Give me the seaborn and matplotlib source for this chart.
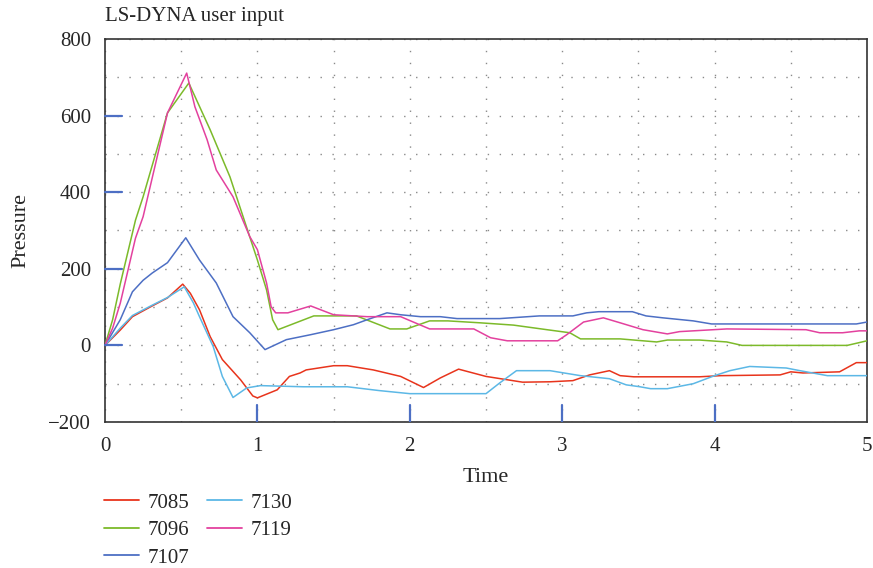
import matplotlib
matplotlib.use("Agg")
import matplotlib.pyplot as plt
from matplotlib.ticker import MultipleLocator
from matplotlib.lines import Line2D
import seaborn as sns
import pandas as pd

# ---- data ----
series_names = ["7085", "7096", "7107", "7130", "7119"]

t_7085 = [0, 0.1, 0.18, 0.3, 0.41, 0.51, 0.56, 0.62, 0.69, 0.77, 0.89, 0.97, 1.0, 1.13, 1.21, 1.28,
          1.32, 1.5, 1.59, 1.76, 1.94, 2.09, 2.2, 2.32, 2.5, 2.74, 2.92, 3.07, 3.18, 3.31, 3.38, 3.47,
          3.9, 4.04, 4.43, 4.5, 4.58, 4.82, 4.93, 5.0]
p_7085 = [0, 40, 75, 101, 124, 160, 136, 93, 23, -37, -90, -132, -137, -116, -81, -72,
          -64, -53, -53, -64, -81, -110, -85, -62, -81, -96, -95, -92, -77, -66, -79, -82,
          -82, -79, -77, -69, -72, -69, -45, -45]

t_7130 = [0, 0.1, 0.18, 0.3, 0.41, 0.52, 0.58, 0.62, 0.71, 0.77, 0.84, 0.93, 1.02, 1.3, 1.59, 1.8,
          2.0, 2.5, 2.59, 2.7, 2.92, 3.12, 3.31, 3.42, 3.51, 3.58, 3.69, 3.86, 4.0, 4.1, 4.23, 4.47,
          4.56, 4.74, 5.0]
p_7130 = [0, 45, 78, 103, 125, 153, 111, 75, -3, -81, -136, -111, -105, -108, -108, -118,
          -126, -126, -98, -66, -66, -79, -87, -103, -108, -113, -113, -100, -79, -66, -55, -59,
          -66, -79, -79]

t_7096 = [0, 0.05, 0.1, 0.2, 0.25, 0.41, 0.55, 0.69, 0.82, 1.0, 1.06, 1.10, 1.135, 1.37, 1.65, 1.87,
          1.98, 2.13, 2.25, 2.46, 2.68, 2.9, 3.05, 3.12, 3.38, 3.62, 3.69, 3.9, 4.08, 4.18, 4.87, 5.0]
p_7096 = [0, 67, 160, 327, 388, 607, 685, 563, 440, 223, 145, 67, 41, 77, 77, 43,
          43, 64, 64, 59, 53, 41, 33, 17, 17, 9, 14, 14, 9, 0, 0, 12]

t_7119 = [0, 0.05, 0.1, 0.2, 0.25, 0.41, 0.536, 0.59, 0.67, 0.73, 0.84, 0.95, 1.0, 1.06, 1.09, 1.12,
          1.2, 1.35, 1.5, 1.72, 1.94, 2.13, 2.42, 2.53, 2.64, 2.97, 3.03, 3.14, 3.27, 3.38, 3.53,
          3.69, 3.77, 3.86, 4.08, 4.6, 4.69, 4.84, 4.95, 5.0]
p_7119 = [0, 45, 110, 280, 336, 607, 711, 623, 537, 458, 388, 284, 250, 163, 101, 85,
          85, 103, 80, 75, 75, 43, 43, 20, 12, 12, 28, 61, 72, 59, 41,
          30, 36, 38, 43, 41, 33, 33, 38, 38]

t_7107 = [0, 0.1, 0.18, 0.25, 0.31, 0.41, 0.53, 0.62, 0.73, 0.84, 0.95, 1.05, 1.19, 1.35, 1.5, 1.63,
          1.72, 1.85, 1.94, 2.07, 2.2, 2.31, 2.59, 2.85, 3.07, 3.16, 3.24, 3.46, 3.55, 3.66, 3.86,
          3.98, 4.93, 5.0]
p_7107 = [0, 67, 140, 170, 189, 216, 281, 223, 163, 75, 33, -11, 15, 28, 41, 54,
          67, 85, 80, 75, 75, 70, 70, 77, 77, 85, 88, 88, 77, 72, 64,
          56, 56, 61]

y_ticks = [-200, 0, 200, 400, 600, 800]
x_ticks = [0, 1, 2, 3, 4, 5]
marker_y = [0, 200, 400, 600]
marker_x = [1, 2, 3, 4]

colors = {"7085": "#e8341c", "7096": "#7cba2a", "7107": "#4d6fc4",
          "7130": "#5cb8e6", "7119": "#e3419e"}

frames = []
for name, t, p in [("7085", t_7085, p_7085), ("7096", t_7096, p_7096), ("7107", t_7107, p_7107),
                   ("7130", t_7130, p_7130), ("7119", t_7119, p_7119)]:
    frames.append(pd.DataFrame({"Time": t, "Pressure": p, "id": name}))
df = pd.concat(frames, ignore_index=True)

sns.set_style("white")
plt.rcParams["font.family"] = ["Liberation Serif", "DejaVu Serif"]

fig = plt.figure(figsize=(8.73, 5.68), dpi=100)
ax = fig.add_axes([105 / 873, 1 - 422 / 568, 762 / 873, 383 / 568])

sns.lineplot(data=df, x="Time", y="Pressure", hue="id", hue_order=series_names,
             palette=colors, estimator=None, sort=True, linewidth=1.1, ax=ax, legend=False,
             zorder=3)

ax.set_xlim(0, 5)
ax.set_ylim(-200, 800)
ax.set_xticks(x_ticks)
ax.set_yticks(y_ticks)
ax.set_yticklabels(["\u2212200" if v < 0 else str(v) for v in y_ticks])
ax.xaxis.set_minor_locator(MultipleLocator(0.5))
ax.yaxis.set_minor_locator(MultipleLocator(100))
ax.grid(which="both", color="#8a8a8a", linestyle=(0, (1, 7.6)), linewidth=1.0, zorder=0)
ax.tick_params(which="major", direction="out", length=6, width=1, labelsize=15,
               color="#333333", pad=4)
ax.tick_params(axis="x", which="major", pad=5)
ax.tick_params(which="minor", direction="in", length=4, width=0.8, color="#555555")
for s in ax.spines.values():
    s.set_color("#333333")
    s.set_linewidth(1.2)
    s.set_visible(True)

# blue reference markers (LS-DYNA style)
for yv in marker_y:
    ax.plot([0, 0.11], [yv, yv], color="#4d6fc4", lw=1.6, zorder=4, clip_on=False)
for xv in marker_x:
    ax.plot([xv, xv], [-200, -155], color="#4d6fc4", lw=1.6, zorder=4)

ax.set_xlabel("Time", fontsize=16)
ax.set_ylabel("Pressure", fontsize=16)
ax.xaxis.set_label_coords(0.5, (422 - 468) / 383)
ax.yaxis.set_label_coords((30 - 105) / 762, 0.5)
fig.text(105 / 873, 1 - 16 / 568, "LS-DYNA user input", fontsize=15, va="center", ha="left")

handles = [Line2D([], [], color=colors[n], lw=1.3) for n in series_names]
fig.legend(handles, series_names, loc="upper left", bbox_to_anchor=(104 / 873, 1 - 493 / 568),
           ncol=2, frameon=False, fontsize=15, handlelength=1.68, handletextpad=0.4,
           columnspacing=0.86, labelspacing=0.38, borderpad=0, borderaxespad=0)

fig.savefig("out.png", dpi=100)
